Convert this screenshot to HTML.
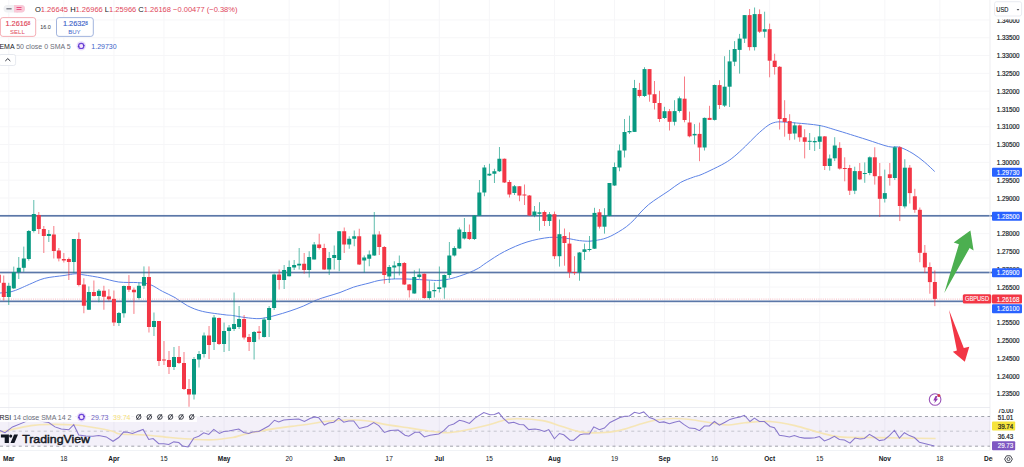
<!DOCTYPE html>
<html><head><meta charset="utf-8"><style>
html,body{margin:0;padding:0;background:#fff;width:1024px;height:467px;overflow:hidden;font-family:"Liberation Sans",sans-serif}
</style></head><body>
<svg width="1024" height="467" viewBox="0 0 1024 467" style="position:absolute;left:0;top:0">
<rect width="1024" height="467" fill="#ffffff"/>
<rect x="8.30" y="0" width="1" height="450" fill="#f6f6f8"/>
<rect x="63.36" y="0" width="1" height="450" fill="#f6f6f8"/>
<rect x="113.42" y="0" width="1" height="450" fill="#f6f6f8"/>
<rect x="163.48" y="0" width="1" height="450" fill="#f6f6f8"/>
<rect x="223.55" y="0" width="1" height="450" fill="#f6f6f8"/>
<rect x="288.62" y="0" width="1" height="450" fill="#f6f6f8"/>
<rect x="338.68" y="0" width="1" height="450" fill="#f6f6f8"/>
<rect x="388.74" y="0" width="1" height="450" fill="#f6f6f8"/>
<rect x="438.80" y="0" width="1" height="450" fill="#f6f6f8"/>
<rect x="488.86" y="0" width="1" height="450" fill="#f6f6f8"/>
<rect x="553.93" y="0" width="1" height="450" fill="#f6f6f8"/>
<rect x="614.00" y="0" width="1" height="450" fill="#f6f6f8"/>
<rect x="664.06" y="0" width="1" height="450" fill="#f6f6f8"/>
<rect x="714.12" y="0" width="1" height="450" fill="#f6f6f8"/>
<rect x="769.18" y="0" width="1" height="450" fill="#f6f6f8"/>
<rect x="819.24" y="0" width="1" height="450" fill="#f6f6f8"/>
<rect x="884.31" y="0" width="1" height="450" fill="#f6f6f8"/>
<rect x="939.38" y="0" width="1" height="450" fill="#f6f6f8"/>
<rect x="989.44" y="0" width="1" height="450" fill="#f6f6f8"/>
<rect x="0" y="393.35" width="990" height="1" fill="#f6f6f8"/>
<rect x="0" y="375.54" width="990" height="1" fill="#f6f6f8"/>
<rect x="0" y="357.74" width="990" height="1" fill="#f6f6f8"/>
<rect x="0" y="339.94" width="990" height="1" fill="#f6f6f8"/>
<rect x="0" y="322.13" width="990" height="1" fill="#f6f6f8"/>
<rect x="0" y="304.33" width="990" height="1" fill="#f6f6f8"/>
<rect x="0" y="286.52" width="990" height="1" fill="#f6f6f8"/>
<rect x="0" y="268.72" width="990" height="1" fill="#f6f6f8"/>
<rect x="0" y="250.91" width="990" height="1" fill="#f6f6f8"/>
<rect x="0" y="233.11" width="990" height="1" fill="#f6f6f8"/>
<rect x="0" y="215.30" width="990" height="1" fill="#f6f6f8"/>
<rect x="0" y="197.50" width="990" height="1" fill="#f6f6f8"/>
<rect x="0" y="179.69" width="990" height="1" fill="#f6f6f8"/>
<rect x="0" y="161.89" width="990" height="1" fill="#f6f6f8"/>
<rect x="0" y="144.08" width="990" height="1" fill="#f6f6f8"/>
<rect x="0" y="126.28" width="990" height="1" fill="#f6f6f8"/>
<rect x="0" y="108.47" width="990" height="1" fill="#f6f6f8"/>
<rect x="0" y="90.67" width="990" height="1" fill="#f6f6f8"/>
<rect x="0" y="72.86" width="990" height="1" fill="#f6f6f8"/>
<rect x="0" y="55.06" width="990" height="1" fill="#f6f6f8"/>
<rect x="0" y="37.25" width="990" height="1" fill="#f6f6f8"/>
<rect x="0" y="19.45" width="990" height="1" fill="#f6f6f8"/>
<path d="M0.00,293.00 C1.83,292.80 7.67,292.55 11.00,291.80 C14.33,291.05 16.92,289.75 20.00,288.50 C23.08,287.25 25.45,285.98 29.50,284.30 C33.55,282.62 38.55,279.87 44.30,278.40 C50.05,276.93 58.88,276.27 64.00,275.50 C69.12,274.73 72.12,273.97 75.00,273.80 C77.88,273.63 77.08,273.87 81.25,274.50 C85.42,275.13 93.75,276.35 100.00,277.60 C106.25,278.85 112.50,281.17 118.75,282.00 C125.00,282.83 132.29,282.18 137.50,282.60 C142.71,283.02 145.83,283.03 150.00,284.50 C154.17,285.97 158.33,289.22 162.50,291.40 C166.67,293.58 170.83,295.21 175.00,297.60 C179.17,299.99 182.92,303.45 187.50,305.75 C192.08,308.05 196.25,309.89 202.50,311.40 C208.75,312.91 220.00,314.12 225.00,314.80 C230.00,315.48 229.17,315.05 232.50,315.50 C235.83,315.95 240.42,316.98 245.00,317.50 C249.58,318.02 255.00,318.93 260.00,318.60 C265.00,318.27 270.00,316.77 275.00,315.50 C280.00,314.23 285.25,312.58 290.00,311.00 C294.75,309.42 299.17,307.80 303.50,306.00 C307.83,304.20 311.92,301.83 316.00,300.20 C320.08,298.57 324.00,297.48 328.00,296.20 C332.00,294.92 335.77,294.00 340.00,292.50 C344.23,291.00 348.57,288.77 353.40,287.20 C358.23,285.63 364.57,284.25 369.00,283.10 C373.43,281.95 375.57,281.00 380.00,280.30 C384.43,279.60 390.39,279.08 395.60,278.90 C400.81,278.72 406.03,279.02 411.25,279.20 C416.47,279.38 422.21,279.80 426.90,280.00 C431.59,280.20 435.23,280.67 439.40,280.40 C443.57,280.13 447.22,279.59 451.90,278.40 C456.58,277.21 463.08,274.94 467.50,273.25 C471.92,271.56 475.27,269.99 478.40,268.25 C481.52,266.51 481.90,265.59 486.25,262.80 C490.60,260.01 497.71,254.97 504.50,251.50 C511.29,248.03 519.47,244.35 527.00,242.00 C534.53,239.65 543.16,238.02 549.70,237.40 C556.24,236.78 561.28,237.77 566.25,238.30 C571.22,238.83 575.59,240.12 579.50,240.60 C583.41,241.08 586.70,241.28 589.70,241.20 C592.70,241.12 595.16,240.50 597.50,240.10 C599.84,239.70 601.53,239.47 603.75,238.80 C605.97,238.13 608.32,237.27 610.80,236.10 C613.27,234.93 616.00,233.37 618.60,231.80 C621.20,230.23 623.80,228.72 626.40,226.70 C629.00,224.68 631.93,221.98 634.20,219.70 C636.47,217.42 637.60,215.52 640.00,213.00 C642.40,210.48 645.47,207.20 648.60,204.60 C651.73,202.00 655.38,199.73 658.80,197.40 C662.22,195.07 665.45,193.10 669.10,190.60 C672.75,188.10 676.63,184.65 680.70,182.40 C684.77,180.15 690.28,178.32 693.50,177.10 C696.72,175.88 697.25,176.18 700.00,175.10 C702.75,174.02 705.87,172.60 710.00,170.60 C714.13,168.60 720.77,165.45 724.80,163.10 C728.83,160.75 730.75,159.32 734.20,156.50 C737.65,153.68 741.73,149.80 745.50,146.20 C749.27,142.60 753.03,138.37 756.80,134.90 C760.57,131.43 764.95,127.52 768.10,125.40 C771.25,123.28 773.18,122.77 775.70,122.20 C778.22,121.63 779.75,121.87 783.20,122.00 C786.65,122.13 790.43,122.43 796.40,123.00 C802.37,123.57 812.43,124.23 819.00,125.40 C825.57,126.57 827.97,127.67 835.80,130.00 C843.63,132.33 857.20,136.63 866.00,139.40 C874.80,142.17 882.95,145.28 888.60,146.60 C894.25,147.92 895.83,146.13 899.90,147.30 C903.97,148.47 908.92,151.15 913.00,153.60 C917.08,156.05 920.78,159.02 924.40,162.00 C928.02,164.98 932.98,169.92 934.70,171.50" fill="none" stroke="#5d83e6" stroke-width="1"/>
<rect x="0" y="214.95" width="992.3" height="1.7" fill="#5b77a8"/>
<rect x="0" y="271.65" width="992.3" height="1.7" fill="#5b77a8"/>
<rect x="0" y="300.50" width="963" height="1.7" fill="#5b77a8"/>
<line x1="0" y1="299.1" x2="962" y2="299.1" stroke="#f5aab3" stroke-width="0.8" stroke-dasharray="1 1.2"/>
<rect x="-1.61" y="272.50" width="0.8" height="11.50" fill="#F23645" fill-opacity="0.8"/>
<rect x="-3.21" y="274.70" width="4" height="8.10" fill="#F23645"/>
<rect x="3.39" y="275.50" width="0.8" height="25.00" fill="#F23645" fill-opacity="0.8"/>
<rect x="1.79" y="282.80" width="4" height="14.20" fill="#F23645"/>
<rect x="8.40" y="282.80" width="0.8" height="22.20" fill="#089981" fill-opacity="0.8"/>
<rect x="6.80" y="285.80" width="4" height="11.20" fill="#089981"/>
<rect x="13.41" y="266.60" width="0.8" height="22.40" fill="#089981" fill-opacity="0.8"/>
<rect x="11.81" y="272.20" width="4" height="16.20" fill="#089981"/>
<rect x="18.41" y="257.00" width="0.8" height="22.00" fill="#089981" fill-opacity="0.8"/>
<rect x="16.81" y="267.80" width="4" height="4.40" fill="#089981"/>
<rect x="23.42" y="246.60" width="0.8" height="25.20" fill="#089981" fill-opacity="0.8"/>
<rect x="21.82" y="258.50" width="4" height="9.30" fill="#089981"/>
<rect x="28.42" y="230.00" width="0.8" height="30.70" fill="#089981" fill-opacity="0.8"/>
<rect x="26.82" y="231.00" width="4" height="28.00" fill="#089981"/>
<rect x="33.43" y="200.00" width="0.8" height="32.50" fill="#089981" fill-opacity="0.8"/>
<rect x="31.83" y="214.00" width="4" height="17.00" fill="#089981"/>
<rect x="38.43" y="212.00" width="0.8" height="22.00" fill="#F23645" fill-opacity="0.8"/>
<rect x="36.83" y="215.00" width="4" height="14.00" fill="#F23645"/>
<rect x="43.44" y="226.00" width="0.8" height="27.00" fill="#F23645" fill-opacity="0.8"/>
<rect x="41.84" y="229.00" width="4" height="7.00" fill="#F23645"/>
<rect x="48.45" y="230.00" width="0.8" height="12.00" fill="#089981" fill-opacity="0.8"/>
<rect x="46.85" y="234.00" width="4" height="2.00" fill="#089981"/>
<rect x="53.45" y="226.00" width="0.8" height="32.50" fill="#F23645" fill-opacity="0.8"/>
<rect x="51.85" y="234.50" width="4" height="16.50" fill="#F23645"/>
<rect x="58.46" y="248.00" width="0.8" height="13.40" fill="#F23645" fill-opacity="0.8"/>
<rect x="56.86" y="250.50" width="4" height="8.00" fill="#F23645"/>
<rect x="63.46" y="253.00" width="0.8" height="9.50" fill="#F23645" fill-opacity="0.8"/>
<rect x="61.86" y="259.00" width="4" height="1.50" fill="#F23645"/>
<rect x="68.47" y="257.50" width="0.8" height="22.50" fill="#F23645" fill-opacity="0.8"/>
<rect x="66.87" y="259.00" width="4" height="3.00" fill="#F23645"/>
<rect x="73.48" y="239.00" width="0.8" height="34.00" fill="#089981" fill-opacity="0.8"/>
<rect x="71.88" y="239.00" width="4" height="23.00" fill="#089981"/>
<rect x="78.48" y="232.50" width="0.8" height="53.90" fill="#F23645" fill-opacity="0.8"/>
<rect x="76.88" y="239.00" width="4" height="46.00" fill="#F23645"/>
<rect x="83.49" y="278.25" width="0.8" height="35.00" fill="#F23645" fill-opacity="0.8"/>
<rect x="81.89" y="284.50" width="4" height="21.25" fill="#F23645"/>
<rect x="88.49" y="286.40" width="0.8" height="23.60" fill="#089981" fill-opacity="0.8"/>
<rect x="86.89" y="292.00" width="4" height="17.75" fill="#089981"/>
<rect x="93.50" y="280.50" width="0.8" height="16.00" fill="#F23645" fill-opacity="0.8"/>
<rect x="91.90" y="292.00" width="4" height="4.00" fill="#F23645"/>
<rect x="98.50" y="289.00" width="0.8" height="13.25" fill="#089981" fill-opacity="0.8"/>
<rect x="96.90" y="290.75" width="4" height="5.25" fill="#089981"/>
<rect x="103.51" y="285.75" width="0.8" height="24.00" fill="#F23645" fill-opacity="0.8"/>
<rect x="101.91" y="290.75" width="4" height="6.00" fill="#F23645"/>
<rect x="108.52" y="289.25" width="0.8" height="11.50" fill="#F23645" fill-opacity="0.8"/>
<rect x="106.92" y="296.40" width="4" height="2.85" fill="#F23645"/>
<rect x="113.52" y="290.50" width="0.8" height="35.50" fill="#F23645" fill-opacity="0.8"/>
<rect x="111.92" y="298.90" width="4" height="23.60" fill="#F23645"/>
<rect x="118.53" y="312.00" width="0.8" height="14.00" fill="#089981" fill-opacity="0.8"/>
<rect x="116.93" y="313.00" width="4" height="10.00" fill="#089981"/>
<rect x="123.53" y="285.50" width="0.8" height="32.10" fill="#089981" fill-opacity="0.8"/>
<rect x="121.93" y="286.00" width="4" height="27.25" fill="#089981"/>
<rect x="128.54" y="275.10" width="0.8" height="16.90" fill="#F23645" fill-opacity="0.8"/>
<rect x="126.94" y="286.00" width="4" height="3.75" fill="#F23645"/>
<rect x="133.54" y="287.60" width="0.8" height="26.30" fill="#F23645" fill-opacity="0.8"/>
<rect x="131.94" y="289.75" width="4" height="2.50" fill="#F23645"/>
<rect x="138.55" y="282.60" width="0.8" height="16.90" fill="#089981" fill-opacity="0.8"/>
<rect x="136.95" y="285.75" width="4" height="12.25" fill="#089981"/>
<rect x="143.56" y="266.40" width="0.8" height="22.50" fill="#089981" fill-opacity="0.8"/>
<rect x="141.96" y="277.00" width="4" height="8.75" fill="#089981"/>
<rect x="148.56" y="266.40" width="0.8" height="66.10" fill="#F23645" fill-opacity="0.8"/>
<rect x="146.96" y="277.00" width="4" height="50.00" fill="#F23645"/>
<rect x="153.57" y="312.50" width="0.8" height="23.50" fill="#089981" fill-opacity="0.8"/>
<rect x="151.97" y="321.00" width="4" height="6.00" fill="#089981"/>
<rect x="158.57" y="321.00" width="0.8" height="45.00" fill="#F23645" fill-opacity="0.8"/>
<rect x="156.97" y="321.00" width="4" height="40.00" fill="#F23645"/>
<rect x="163.58" y="341.00" width="0.8" height="24.00" fill="#F23645" fill-opacity="0.8"/>
<rect x="161.98" y="359.50" width="4" height="1.00" fill="#F23645"/>
<rect x="168.59" y="351.00" width="0.8" height="23.00" fill="#F23645" fill-opacity="0.8"/>
<rect x="166.99" y="360.00" width="4" height="7.00" fill="#F23645"/>
<rect x="173.59" y="347.00" width="0.8" height="23.00" fill="#089981" fill-opacity="0.8"/>
<rect x="171.99" y="357.00" width="4" height="10.00" fill="#089981"/>
<rect x="178.60" y="346.00" width="0.8" height="18.00" fill="#F23645" fill-opacity="0.8"/>
<rect x="177.00" y="357.00" width="4" height="6.00" fill="#F23645"/>
<rect x="183.60" y="352.00" width="0.8" height="38.00" fill="#F23645" fill-opacity="0.8"/>
<rect x="182.00" y="363.00" width="4" height="26.00" fill="#F23645"/>
<rect x="188.61" y="379.00" width="0.8" height="27.75" fill="#F23645" fill-opacity="0.8"/>
<rect x="187.01" y="389.00" width="4" height="5.50" fill="#F23645"/>
<rect x="193.61" y="357.00" width="0.8" height="42.50" fill="#089981" fill-opacity="0.8"/>
<rect x="192.01" y="359.00" width="4" height="35.50" fill="#089981"/>
<rect x="198.62" y="351.00" width="0.8" height="16.50" fill="#089981" fill-opacity="0.8"/>
<rect x="197.02" y="354.00" width="4" height="5.50" fill="#089981"/>
<rect x="203.63" y="332.50" width="0.8" height="25.00" fill="#089981" fill-opacity="0.8"/>
<rect x="202.03" y="335.50" width="4" height="18.50" fill="#089981"/>
<rect x="208.63" y="326.00" width="0.8" height="33.00" fill="#F23645" fill-opacity="0.8"/>
<rect x="207.03" y="335.50" width="4" height="9.50" fill="#F23645"/>
<rect x="213.64" y="315.00" width="0.8" height="35.00" fill="#089981" fill-opacity="0.8"/>
<rect x="212.04" y="317.50" width="4" height="24.50" fill="#089981"/>
<rect x="218.64" y="317.50" width="0.8" height="27.50" fill="#F23645" fill-opacity="0.8"/>
<rect x="217.04" y="318.00" width="4" height="26.00" fill="#F23645"/>
<rect x="223.65" y="322.50" width="0.8" height="29.50" fill="#089981" fill-opacity="0.8"/>
<rect x="222.05" y="331.00" width="4" height="13.00" fill="#089981"/>
<rect x="228.66" y="325.00" width="0.8" height="26.00" fill="#089981" fill-opacity="0.8"/>
<rect x="227.06" y="327.50" width="4" height="3.50" fill="#089981"/>
<rect x="233.66" y="292.50" width="0.8" height="38.50" fill="#089981" fill-opacity="0.8"/>
<rect x="232.06" y="324.00" width="4" height="5.00" fill="#089981"/>
<rect x="238.67" y="306.00" width="0.8" height="23.00" fill="#089981" fill-opacity="0.8"/>
<rect x="237.07" y="319.00" width="4" height="8.00" fill="#089981"/>
<rect x="243.67" y="315.00" width="0.8" height="24.50" fill="#F23645" fill-opacity="0.8"/>
<rect x="242.07" y="319.00" width="4" height="18.50" fill="#F23645"/>
<rect x="248.68" y="334.00" width="0.8" height="17.00" fill="#F23645" fill-opacity="0.8"/>
<rect x="247.08" y="337.00" width="4" height="5.00" fill="#F23645"/>
<rect x="253.68" y="331.00" width="0.8" height="28.50" fill="#089981" fill-opacity="0.8"/>
<rect x="252.08" y="332.00" width="4" height="10.00" fill="#089981"/>
<rect x="258.69" y="326.00" width="0.8" height="13.50" fill="#F23645" fill-opacity="0.8"/>
<rect x="257.09" y="331.50" width="4" height="1.50" fill="#F23645"/>
<rect x="263.70" y="317.50" width="0.8" height="20.00" fill="#089981" fill-opacity="0.8"/>
<rect x="262.10" y="319.50" width="4" height="17.50" fill="#089981"/>
<rect x="268.70" y="306.00" width="0.8" height="31.00" fill="#089981" fill-opacity="0.8"/>
<rect x="267.10" y="308.00" width="4" height="12.00" fill="#089981"/>
<rect x="273.71" y="273.50" width="0.8" height="36.50" fill="#089981" fill-opacity="0.8"/>
<rect x="272.11" y="274.50" width="4" height="33.50" fill="#089981"/>
<rect x="278.71" y="269.50" width="0.8" height="20.00" fill="#F23645" fill-opacity="0.8"/>
<rect x="277.11" y="274.50" width="4" height="5.50" fill="#F23645"/>
<rect x="283.72" y="265.00" width="0.8" height="24.00" fill="#089981" fill-opacity="0.8"/>
<rect x="282.12" y="270.00" width="4" height="10.00" fill="#089981"/>
<rect x="288.72" y="260.50" width="0.8" height="16.00" fill="#089981" fill-opacity="0.8"/>
<rect x="287.12" y="267.00" width="4" height="9.25" fill="#089981"/>
<rect x="293.73" y="260.00" width="0.8" height="10.00" fill="#089981" fill-opacity="0.8"/>
<rect x="292.13" y="265.00" width="4" height="2.50" fill="#089981"/>
<rect x="298.74" y="248.00" width="0.8" height="21.50" fill="#089981" fill-opacity="0.8"/>
<rect x="297.14" y="263.75" width="4" height="1.75" fill="#089981"/>
<rect x="303.74" y="253.00" width="0.8" height="20.75" fill="#F23645" fill-opacity="0.8"/>
<rect x="302.14" y="263.75" width="4" height="6.25" fill="#F23645"/>
<rect x="308.75" y="251.25" width="0.8" height="26.25" fill="#089981" fill-opacity="0.8"/>
<rect x="307.15" y="257.00" width="4" height="13.00" fill="#089981"/>
<rect x="313.75" y="242.00" width="0.8" height="17.50" fill="#089981" fill-opacity="0.8"/>
<rect x="312.15" y="244.50" width="4" height="15.00" fill="#089981"/>
<rect x="318.76" y="233.75" width="0.8" height="15.75" fill="#F23645" fill-opacity="0.8"/>
<rect x="317.16" y="244.50" width="4" height="3.50" fill="#F23645"/>
<rect x="323.77" y="243.75" width="0.8" height="26.25" fill="#F23645" fill-opacity="0.8"/>
<rect x="322.17" y="248.00" width="4" height="21.50" fill="#F23645"/>
<rect x="328.77" y="252.00" width="0.8" height="23.00" fill="#089981" fill-opacity="0.8"/>
<rect x="327.17" y="258.00" width="4" height="11.50" fill="#089981"/>
<rect x="333.78" y="245.50" width="0.8" height="24.00" fill="#089981" fill-opacity="0.8"/>
<rect x="332.18" y="255.00" width="4" height="3.00" fill="#089981"/>
<rect x="338.78" y="231.00" width="0.8" height="40.25" fill="#089981" fill-opacity="0.8"/>
<rect x="337.18" y="231.25" width="4" height="28.75" fill="#089981"/>
<rect x="343.79" y="227.50" width="0.8" height="25.50" fill="#F23645" fill-opacity="0.8"/>
<rect x="342.19" y="231.25" width="4" height="13.25" fill="#F23645"/>
<rect x="348.79" y="236.25" width="0.8" height="12.50" fill="#089981" fill-opacity="0.8"/>
<rect x="347.19" y="238.75" width="4" height="5.75" fill="#089981"/>
<rect x="353.80" y="230.50" width="0.8" height="15.75" fill="#089981" fill-opacity="0.8"/>
<rect x="352.20" y="236.25" width="4" height="2.50" fill="#089981"/>
<rect x="358.81" y="228.75" width="0.8" height="36.25" fill="#F23645" fill-opacity="0.8"/>
<rect x="357.21" y="236.25" width="4" height="28.25" fill="#F23645"/>
<rect x="363.81" y="255.50" width="0.8" height="17.00" fill="#089981" fill-opacity="0.8"/>
<rect x="362.21" y="257.50" width="4" height="3.00" fill="#089981"/>
<rect x="368.82" y="250.50" width="0.8" height="15.75" fill="#089981" fill-opacity="0.8"/>
<rect x="367.22" y="254.50" width="4" height="4.25" fill="#089981"/>
<rect x="373.82" y="212.00" width="0.8" height="44.00" fill="#089981" fill-opacity="0.8"/>
<rect x="372.22" y="234.50" width="4" height="21.00" fill="#089981"/>
<rect x="378.83" y="231.25" width="0.8" height="23.75" fill="#F23645" fill-opacity="0.8"/>
<rect x="377.23" y="234.50" width="4" height="12.50" fill="#F23645"/>
<rect x="383.84" y="246.00" width="0.8" height="37.75" fill="#F23645" fill-opacity="0.8"/>
<rect x="382.24" y="247.00" width="4" height="28.00" fill="#F23645"/>
<rect x="388.84" y="265.00" width="0.8" height="18.00" fill="#089981" fill-opacity="0.8"/>
<rect x="387.24" y="267.00" width="4" height="9.50" fill="#089981"/>
<rect x="393.85" y="261.25" width="0.8" height="17.75" fill="#089981" fill-opacity="0.8"/>
<rect x="392.25" y="265.50" width="4" height="2.00" fill="#089981"/>
<rect x="398.85" y="255.50" width="0.8" height="20.00" fill="#089981" fill-opacity="0.8"/>
<rect x="397.25" y="263.00" width="4" height="3.25" fill="#089981"/>
<rect x="403.86" y="262.00" width="0.8" height="23.00" fill="#F23645" fill-opacity="0.8"/>
<rect x="402.26" y="263.00" width="4" height="21.50" fill="#F23645"/>
<rect x="408.86" y="284.00" width="0.8" height="13.50" fill="#F23645" fill-opacity="0.8"/>
<rect x="407.26" y="284.50" width="4" height="5.75" fill="#F23645"/>
<rect x="413.87" y="270.25" width="0.8" height="23.50" fill="#089981" fill-opacity="0.8"/>
<rect x="412.27" y="277.00" width="4" height="16.50" fill="#089981"/>
<rect x="418.88" y="268.50" width="0.8" height="10.25" fill="#089981" fill-opacity="0.8"/>
<rect x="417.28" y="274.50" width="4" height="2.50" fill="#089981"/>
<rect x="423.88" y="273.50" width="0.8" height="25.25" fill="#F23645" fill-opacity="0.8"/>
<rect x="422.28" y="273.75" width="4" height="24.25" fill="#F23645"/>
<rect x="428.89" y="280.75" width="0.8" height="18.75" fill="#089981" fill-opacity="0.8"/>
<rect x="427.29" y="291.25" width="4" height="6.75" fill="#089981"/>
<rect x="433.89" y="282.50" width="0.8" height="15.00" fill="#089981" fill-opacity="0.8"/>
<rect x="432.29" y="290.00" width="4" height="1.25" fill="#089981"/>
<rect x="438.90" y="266.50" width="0.8" height="26.00" fill="#089981" fill-opacity="0.8"/>
<rect x="437.30" y="287.25" width="4" height="1.75" fill="#089981"/>
<rect x="443.90" y="274.50" width="0.8" height="24.25" fill="#089981" fill-opacity="0.8"/>
<rect x="442.30" y="275.00" width="4" height="12.50" fill="#089981"/>
<rect x="448.91" y="242.00" width="0.8" height="36.00" fill="#089981" fill-opacity="0.8"/>
<rect x="447.31" y="255.50" width="4" height="19.50" fill="#089981"/>
<rect x="453.92" y="246.25" width="0.8" height="10.25" fill="#089981" fill-opacity="0.8"/>
<rect x="452.32" y="248.00" width="4" height="7.50" fill="#089981"/>
<rect x="458.92" y="227.50" width="0.8" height="21.50" fill="#089981" fill-opacity="0.8"/>
<rect x="457.32" y="229.50" width="4" height="19.00" fill="#089981"/>
<rect x="463.93" y="218.00" width="0.8" height="21.50" fill="#089981" fill-opacity="0.8"/>
<rect x="462.33" y="232.00" width="4" height="6.50" fill="#089981"/>
<rect x="468.93" y="224.50" width="0.8" height="15.50" fill="#F23645" fill-opacity="0.8"/>
<rect x="467.33" y="232.00" width="4" height="7.00" fill="#F23645"/>
<rect x="473.94" y="215.00" width="0.8" height="25.00" fill="#089981" fill-opacity="0.8"/>
<rect x="472.34" y="215.50" width="4" height="23.50" fill="#089981"/>
<rect x="478.95" y="180.00" width="0.8" height="36.00" fill="#089981" fill-opacity="0.8"/>
<rect x="477.35" y="192.50" width="4" height="23.25" fill="#089981"/>
<rect x="483.95" y="165.00" width="0.8" height="31.25" fill="#089981" fill-opacity="0.8"/>
<rect x="482.35" y="167.50" width="4" height="25.00" fill="#089981"/>
<rect x="488.96" y="163.75" width="0.8" height="12.25" fill="#089981" fill-opacity="0.8"/>
<rect x="487.36" y="173.75" width="4" height="1.75" fill="#089981"/>
<rect x="493.96" y="168.75" width="0.8" height="14.25" fill="#089981" fill-opacity="0.8"/>
<rect x="492.36" y="171.25" width="4" height="2.50" fill="#089981"/>
<rect x="498.97" y="147.00" width="0.8" height="25.00" fill="#089981" fill-opacity="0.8"/>
<rect x="497.37" y="158.75" width="4" height="12.50" fill="#089981"/>
<rect x="503.97" y="158.50" width="0.8" height="24.50" fill="#F23645" fill-opacity="0.8"/>
<rect x="502.37" y="158.75" width="4" height="23.75" fill="#F23645"/>
<rect x="508.98" y="180.00" width="0.8" height="17.50" fill="#F23645" fill-opacity="0.8"/>
<rect x="507.38" y="182.00" width="4" height="12.50" fill="#F23645"/>
<rect x="513.99" y="185.00" width="0.8" height="10.00" fill="#089981" fill-opacity="0.8"/>
<rect x="512.39" y="186.25" width="4" height="6.75" fill="#089981"/>
<rect x="518.99" y="186.00" width="0.8" height="15.25" fill="#F23645" fill-opacity="0.8"/>
<rect x="517.39" y="186.25" width="4" height="9.25" fill="#F23645"/>
<rect x="524.00" y="184.50" width="0.8" height="20.50" fill="#F23645" fill-opacity="0.8"/>
<rect x="522.40" y="194.50" width="4" height="1.00" fill="#F23645"/>
<rect x="529.00" y="195.00" width="0.8" height="21.00" fill="#F23645" fill-opacity="0.8"/>
<rect x="527.40" y="195.50" width="4" height="20.00" fill="#F23645"/>
<rect x="534.01" y="206.00" width="0.8" height="11.20" fill="#089981" fill-opacity="0.8"/>
<rect x="532.41" y="211.50" width="4" height="4.00" fill="#089981"/>
<rect x="539.01" y="202.20" width="0.8" height="28.60" fill="#089981" fill-opacity="0.8"/>
<rect x="537.41" y="212.30" width="4" height="1.50" fill="#089981"/>
<rect x="544.02" y="210.50" width="0.8" height="15.50" fill="#F23645" fill-opacity="0.8"/>
<rect x="542.42" y="212.00" width="4" height="9.00" fill="#F23645"/>
<rect x="549.03" y="212.00" width="0.8" height="14.00" fill="#089981" fill-opacity="0.8"/>
<rect x="547.43" y="214.20" width="4" height="6.80" fill="#089981"/>
<rect x="554.03" y="211.60" width="0.8" height="47.40" fill="#F23645" fill-opacity="0.8"/>
<rect x="552.43" y="214.20" width="4" height="42.00" fill="#F23645"/>
<rect x="559.04" y="219.50" width="0.8" height="47.10" fill="#089981" fill-opacity="0.8"/>
<rect x="557.44" y="234.20" width="4" height="22.00" fill="#089981"/>
<rect x="564.04" y="228.50" width="0.8" height="37.20" fill="#F23645" fill-opacity="0.8"/>
<rect x="562.44" y="236.00" width="4" height="7.00" fill="#F23645"/>
<rect x="569.05" y="232.30" width="0.8" height="45.60" fill="#F23645" fill-opacity="0.8"/>
<rect x="567.45" y="243.60" width="4" height="28.70" fill="#F23645"/>
<rect x="574.06" y="256.20" width="0.8" height="18.80" fill="#F23645" fill-opacity="0.8"/>
<rect x="572.46" y="272.00" width="4" height="1.00" fill="#F23645"/>
<rect x="579.06" y="252.00" width="0.8" height="28.70" fill="#089981" fill-opacity="0.8"/>
<rect x="577.46" y="252.50" width="4" height="19.80" fill="#089981"/>
<rect x="584.07" y="243.60" width="0.8" height="16.40" fill="#089981" fill-opacity="0.8"/>
<rect x="582.47" y="249.30" width="4" height="2.60" fill="#089981"/>
<rect x="589.07" y="236.00" width="0.8" height="15.50" fill="#089981" fill-opacity="0.8"/>
<rect x="587.47" y="249.00" width="4" height="1.00" fill="#089981"/>
<rect x="594.08" y="207.80" width="0.8" height="41.20" fill="#089981" fill-opacity="0.8"/>
<rect x="592.48" y="212.90" width="4" height="35.80" fill="#089981"/>
<rect x="599.08" y="209.00" width="0.8" height="19.50" fill="#F23645" fill-opacity="0.8"/>
<rect x="597.48" y="212.30" width="4" height="14.40" fill="#F23645"/>
<rect x="604.09" y="208.20" width="0.8" height="25.40" fill="#089981" fill-opacity="0.8"/>
<rect x="602.49" y="215.70" width="4" height="11.00" fill="#089981"/>
<rect x="609.10" y="183.00" width="0.8" height="33.25" fill="#089981" fill-opacity="0.8"/>
<rect x="607.50" y="183.00" width="4" height="33.00" fill="#089981"/>
<rect x="614.10" y="162.50" width="0.8" height="23.50" fill="#089981" fill-opacity="0.8"/>
<rect x="612.50" y="167.00" width="4" height="18.50" fill="#089981"/>
<rect x="619.11" y="144.50" width="0.8" height="26.75" fill="#089981" fill-opacity="0.8"/>
<rect x="617.51" y="150.50" width="4" height="17.00" fill="#089981"/>
<rect x="624.11" y="119.00" width="0.8" height="38.50" fill="#089981" fill-opacity="0.8"/>
<rect x="622.51" y="132.00" width="4" height="18.50" fill="#089981"/>
<rect x="629.12" y="115.70" width="0.8" height="18.30" fill="#089981" fill-opacity="0.8"/>
<rect x="627.52" y="131.00" width="4" height="1.30" fill="#089981"/>
<rect x="634.12" y="79.90" width="0.8" height="52.10" fill="#089981" fill-opacity="0.8"/>
<rect x="632.52" y="88.00" width="4" height="43.90" fill="#089981"/>
<rect x="639.13" y="82.90" width="0.8" height="14.50" fill="#F23645" fill-opacity="0.8"/>
<rect x="637.53" y="89.90" width="4" height="6.10" fill="#F23645"/>
<rect x="644.14" y="67.20" width="0.8" height="29.80" fill="#089981" fill-opacity="0.8"/>
<rect x="642.54" y="69.10" width="4" height="26.90" fill="#089981"/>
<rect x="649.14" y="69.00" width="0.8" height="32.70" fill="#F23645" fill-opacity="0.8"/>
<rect x="647.54" y="69.10" width="4" height="25.50" fill="#F23645"/>
<rect x="654.15" y="81.00" width="0.8" height="28.50" fill="#F23645" fill-opacity="0.8"/>
<rect x="652.55" y="94.20" width="4" height="8.80" fill="#F23645"/>
<rect x="659.15" y="90.80" width="0.8" height="31.20" fill="#F23645" fill-opacity="0.8"/>
<rect x="657.55" y="103.00" width="4" height="16.00" fill="#F23645"/>
<rect x="664.16" y="106.80" width="0.8" height="12.20" fill="#089981" fill-opacity="0.8"/>
<rect x="662.56" y="111.20" width="4" height="6.80" fill="#089981"/>
<rect x="669.17" y="109.00" width="0.8" height="21.50" fill="#F23645" fill-opacity="0.8"/>
<rect x="667.57" y="111.20" width="4" height="10.60" fill="#F23645"/>
<rect x="674.17" y="100.20" width="0.8" height="25.30" fill="#089981" fill-opacity="0.8"/>
<rect x="672.57" y="111.10" width="4" height="10.70" fill="#089981"/>
<rect x="679.18" y="96.50" width="0.8" height="16.00" fill="#089981" fill-opacity="0.8"/>
<rect x="677.58" y="98.30" width="4" height="12.70" fill="#089981"/>
<rect x="684.18" y="76.50" width="0.8" height="45.80" fill="#F23645" fill-opacity="0.8"/>
<rect x="682.58" y="98.70" width="4" height="21.30" fill="#F23645"/>
<rect x="689.19" y="111.60" width="0.8" height="25.70" fill="#F23645" fill-opacity="0.8"/>
<rect x="687.59" y="122.50" width="4" height="13.80" fill="#F23645"/>
<rect x="694.19" y="124.10" width="0.8" height="20.20" fill="#089981" fill-opacity="0.8"/>
<rect x="692.59" y="133.90" width="4" height="1.50" fill="#089981"/>
<rect x="699.20" y="122.60" width="0.8" height="38.60" fill="#F23645" fill-opacity="0.8"/>
<rect x="697.60" y="133.90" width="4" height="13.60" fill="#F23645"/>
<rect x="704.21" y="117.50" width="0.8" height="33.00" fill="#089981" fill-opacity="0.8"/>
<rect x="702.61" y="117.90" width="4" height="29.60" fill="#089981"/>
<rect x="709.21" y="105.80" width="0.8" height="14.20" fill="#F23645" fill-opacity="0.8"/>
<rect x="707.61" y="117.90" width="4" height="2.00" fill="#F23645"/>
<rect x="714.22" y="84.50" width="0.8" height="36.00" fill="#089981" fill-opacity="0.8"/>
<rect x="712.62" y="85.00" width="4" height="34.90" fill="#089981"/>
<rect x="719.22" y="80.20" width="0.8" height="28.80" fill="#F23645" fill-opacity="0.8"/>
<rect x="717.62" y="85.10" width="4" height="19.90" fill="#F23645"/>
<rect x="724.23" y="56.20" width="0.8" height="50.80" fill="#089981" fill-opacity="0.8"/>
<rect x="722.63" y="86.70" width="4" height="18.90" fill="#089981"/>
<rect x="729.24" y="49.90" width="0.8" height="57.10" fill="#089981" fill-opacity="0.8"/>
<rect x="727.64" y="61.40" width="4" height="25.30" fill="#089981"/>
<rect x="734.24" y="41.10" width="0.8" height="25.00" fill="#089981" fill-opacity="0.8"/>
<rect x="732.64" y="49.00" width="4" height="12.70" fill="#089981"/>
<rect x="739.25" y="33.90" width="0.8" height="39.70" fill="#089981" fill-opacity="0.8"/>
<rect x="737.65" y="38.60" width="4" height="11.30" fill="#089981"/>
<rect x="744.25" y="15.00" width="0.8" height="28.00" fill="#089981" fill-opacity="0.8"/>
<rect x="742.65" y="15.10" width="4" height="23.50" fill="#089981"/>
<rect x="749.26" y="9.00" width="0.8" height="41.50" fill="#F23645" fill-opacity="0.8"/>
<rect x="747.66" y="15.10" width="4" height="32.00" fill="#F23645"/>
<rect x="754.26" y="7.50" width="0.8" height="43.00" fill="#089981" fill-opacity="0.8"/>
<rect x="752.66" y="14.10" width="4" height="33.00" fill="#089981"/>
<rect x="759.27" y="9.40" width="0.8" height="23.60" fill="#F23645" fill-opacity="0.8"/>
<rect x="757.67" y="14.10" width="4" height="17.60" fill="#F23645"/>
<rect x="764.28" y="11.70" width="0.8" height="26.00" fill="#089981" fill-opacity="0.8"/>
<rect x="762.68" y="29.20" width="4" height="2.50" fill="#089981"/>
<rect x="769.28" y="23.60" width="0.8" height="53.70" fill="#F23645" fill-opacity="0.8"/>
<rect x="767.68" y="29.20" width="4" height="31.50" fill="#F23645"/>
<rect x="774.29" y="53.70" width="0.8" height="20.90" fill="#F23645" fill-opacity="0.8"/>
<rect x="772.69" y="60.70" width="4" height="6.30" fill="#F23645"/>
<rect x="779.29" y="66.00" width="0.8" height="63.50" fill="#F23645" fill-opacity="0.8"/>
<rect x="777.69" y="66.80" width="4" height="52.20" fill="#F23645"/>
<rect x="784.30" y="100.20" width="0.8" height="36.50" fill="#F23645" fill-opacity="0.8"/>
<rect x="782.70" y="118.00" width="4" height="4.00" fill="#F23645"/>
<rect x="789.30" y="114.20" width="0.8" height="26.00" fill="#F23645" fill-opacity="0.8"/>
<rect x="787.70" y="121.10" width="4" height="12.70" fill="#F23645"/>
<rect x="794.31" y="122.60" width="0.8" height="17.00" fill="#089981" fill-opacity="0.8"/>
<rect x="792.71" y="125.40" width="4" height="8.10" fill="#089981"/>
<rect x="799.32" y="124.50" width="0.8" height="17.30" fill="#F23645" fill-opacity="0.8"/>
<rect x="797.72" y="125.40" width="4" height="11.90" fill="#F23645"/>
<rect x="804.32" y="129.20" width="0.8" height="29.20" fill="#F23645" fill-opacity="0.8"/>
<rect x="802.72" y="137.30" width="4" height="4.50" fill="#F23645"/>
<rect x="809.33" y="133.00" width="0.8" height="17.00" fill="#089981" fill-opacity="0.8"/>
<rect x="807.73" y="140.80" width="4" height="1.00" fill="#089981"/>
<rect x="814.33" y="137.30" width="0.8" height="13.70" fill="#089981" fill-opacity="0.8"/>
<rect x="812.73" y="141.00" width="4" height="1.30" fill="#089981"/>
<rect x="819.34" y="125.40" width="0.8" height="23.60" fill="#089981" fill-opacity="0.8"/>
<rect x="817.74" y="136.40" width="4" height="5.40" fill="#089981"/>
<rect x="824.35" y="136.00" width="0.8" height="34.00" fill="#F23645" fill-opacity="0.8"/>
<rect x="822.75" y="136.40" width="4" height="29.60" fill="#F23645"/>
<rect x="829.35" y="154.50" width="0.8" height="16.10" fill="#089981" fill-opacity="0.8"/>
<rect x="827.75" y="158.50" width="4" height="7.50" fill="#089981"/>
<rect x="834.36" y="137.20" width="0.8" height="23.90" fill="#089981" fill-opacity="0.8"/>
<rect x="832.76" y="145.50" width="4" height="12.80" fill="#089981"/>
<rect x="839.36" y="142.20" width="0.8" height="27.40" fill="#F23645" fill-opacity="0.8"/>
<rect x="837.76" y="147.90" width="4" height="20.70" fill="#F23645"/>
<rect x="844.37" y="157.30" width="0.8" height="24.00" fill="#F23645" fill-opacity="0.8"/>
<rect x="842.77" y="168.00" width="4" height="1.00" fill="#F23645"/>
<rect x="849.37" y="164.90" width="0.8" height="30.10" fill="#F23645" fill-opacity="0.8"/>
<rect x="847.77" y="168.00" width="4" height="22.70" fill="#F23645"/>
<rect x="854.38" y="166.70" width="0.8" height="27.40" fill="#089981" fill-opacity="0.8"/>
<rect x="852.78" y="171.10" width="4" height="19.60" fill="#089981"/>
<rect x="859.39" y="163.00" width="0.8" height="17.00" fill="#F23645" fill-opacity="0.8"/>
<rect x="857.79" y="171.10" width="4" height="8.30" fill="#F23645"/>
<rect x="864.39" y="162.40" width="0.8" height="20.40" fill="#089981" fill-opacity="0.8"/>
<rect x="862.79" y="173.00" width="4" height="1.00" fill="#089981"/>
<rect x="869.40" y="156.40" width="0.8" height="18.80" fill="#089981" fill-opacity="0.8"/>
<rect x="867.80" y="157.30" width="4" height="15.70" fill="#089981"/>
<rect x="874.40" y="147.30" width="0.8" height="37.30" fill="#F23645" fill-opacity="0.8"/>
<rect x="872.80" y="157.30" width="4" height="18.90" fill="#F23645"/>
<rect x="879.41" y="163.00" width="0.8" height="54.00" fill="#F23645" fill-opacity="0.8"/>
<rect x="877.81" y="176.20" width="4" height="22.60" fill="#F23645"/>
<rect x="884.41" y="169.60" width="0.8" height="32.90" fill="#089981" fill-opacity="0.8"/>
<rect x="882.81" y="193.10" width="4" height="5.70" fill="#089981"/>
<rect x="889.42" y="163.00" width="0.8" height="22.60" fill="#F23645" fill-opacity="0.8"/>
<rect x="887.82" y="174.30" width="4" height="3.70" fill="#F23645"/>
<rect x="894.43" y="146.00" width="0.8" height="34.00" fill="#089981" fill-opacity="0.8"/>
<rect x="892.83" y="147.30" width="4" height="30.70" fill="#089981"/>
<rect x="899.43" y="146.00" width="0.8" height="75.10" fill="#F23645" fill-opacity="0.8"/>
<rect x="897.83" y="147.30" width="4" height="58.70" fill="#F23645"/>
<rect x="904.44" y="159.20" width="0.8" height="49.20" fill="#089981" fill-opacity="0.8"/>
<rect x="902.84" y="167.70" width="4" height="38.70" fill="#089981"/>
<rect x="909.44" y="165.00" width="0.8" height="38.50" fill="#F23645" fill-opacity="0.8"/>
<rect x="907.84" y="167.70" width="4" height="25.40" fill="#F23645"/>
<rect x="914.45" y="188.80" width="0.8" height="24.00" fill="#F23645" fill-opacity="0.8"/>
<rect x="912.85" y="196.30" width="4" height="13.50" fill="#F23645"/>
<rect x="919.46" y="207.50" width="0.8" height="54.70" fill="#F23645" fill-opacity="0.8"/>
<rect x="917.86" y="209.80" width="4" height="43.00" fill="#F23645"/>
<rect x="924.46" y="245.00" width="0.8" height="28.00" fill="#F23645" fill-opacity="0.8"/>
<rect x="922.86" y="252.80" width="4" height="14.60" fill="#F23645"/>
<rect x="929.47" y="262.40" width="0.8" height="31.30" fill="#F23645" fill-opacity="0.8"/>
<rect x="927.87" y="267.00" width="4" height="15.10" fill="#F23645"/>
<rect x="934.47" y="270.40" width="0.8" height="35.70" fill="#F23645" fill-opacity="0.8"/>
<rect x="932.87" y="282.00" width="4" height="16.90" fill="#F23645"/>
<path d="M944.3,293.1 L958.9,244.2 L953.7,242.6 L970.4,230.5 L973.6,250.4 L969.6,248.0 Z" fill="#4caf50"/>
<path d="M949.0,310.0 L963.8,347.9 L969.3,346.8 L964.8,361.8 L952.8,351.7 L956.9,350.6 Z" fill="#f23645"/>
<circle cx="935.1" cy="399.5" r="5.8" fill="#fff" stroke="#9a55b8" stroke-width="1.1"/>
<path d="M935.5,396.1 L937.5,396.1 L936.3,398.7 L938.1,398.7 L934.3,403.3 L935.1,400.5 L933.3,400.5 Z" fill="#9038b0"/>
<circle cx="938.9" cy="395.5" r="1.5" fill="#d23a4c"/>
<rect x="989.6" y="0" width="0.8" height="450" fill="#f0f0f2"/>
<text transform="translate(1019.40,396.45) scale(0.920,1)" font-family="Liberation Sans, sans-serif" font-size="6.80" fill="#131722" stroke="#131722" stroke-width="0.18" text-anchor="end">1.23500</text>
<text transform="translate(1019.40,378.64) scale(0.920,1)" font-family="Liberation Sans, sans-serif" font-size="6.80" fill="#131722" stroke="#131722" stroke-width="0.18" text-anchor="end">1.24000</text>
<text transform="translate(1019.40,360.84) scale(0.920,1)" font-family="Liberation Sans, sans-serif" font-size="6.80" fill="#131722" stroke="#131722" stroke-width="0.18" text-anchor="end">1.24500</text>
<text transform="translate(1019.40,343.04) scale(0.920,1)" font-family="Liberation Sans, sans-serif" font-size="6.80" fill="#131722" stroke="#131722" stroke-width="0.18" text-anchor="end">1.25000</text>
<text transform="translate(1019.40,325.23) scale(0.920,1)" font-family="Liberation Sans, sans-serif" font-size="6.80" fill="#131722" stroke="#131722" stroke-width="0.18" text-anchor="end">1.25500</text>
<text transform="translate(1019.40,289.62) scale(0.920,1)" font-family="Liberation Sans, sans-serif" font-size="6.80" fill="#131722" stroke="#131722" stroke-width="0.18" text-anchor="end">1.26500</text>
<text transform="translate(1019.40,271.82) scale(0.920,1)" font-family="Liberation Sans, sans-serif" font-size="6.80" fill="#131722" stroke="#131722" stroke-width="0.18" text-anchor="end">1.27000</text>
<text transform="translate(1019.40,254.01) scale(0.920,1)" font-family="Liberation Sans, sans-serif" font-size="6.80" fill="#131722" stroke="#131722" stroke-width="0.18" text-anchor="end">1.27500</text>
<text transform="translate(1019.40,236.21) scale(0.920,1)" font-family="Liberation Sans, sans-serif" font-size="6.80" fill="#131722" stroke="#131722" stroke-width="0.18" text-anchor="end">1.28000</text>
<text transform="translate(1019.40,200.60) scale(0.920,1)" font-family="Liberation Sans, sans-serif" font-size="6.80" fill="#131722" stroke="#131722" stroke-width="0.18" text-anchor="end">1.29000</text>
<text transform="translate(1019.40,182.79) scale(0.920,1)" font-family="Liberation Sans, sans-serif" font-size="6.80" fill="#131722" stroke="#131722" stroke-width="0.18" text-anchor="end">1.29500</text>
<text transform="translate(1019.40,164.99) scale(0.920,1)" font-family="Liberation Sans, sans-serif" font-size="6.80" fill="#131722" stroke="#131722" stroke-width="0.18" text-anchor="end">1.30000</text>
<text transform="translate(1019.40,147.18) scale(0.920,1)" font-family="Liberation Sans, sans-serif" font-size="6.80" fill="#131722" stroke="#131722" stroke-width="0.18" text-anchor="end">1.30500</text>
<text transform="translate(1019.40,129.38) scale(0.920,1)" font-family="Liberation Sans, sans-serif" font-size="6.80" fill="#131722" stroke="#131722" stroke-width="0.18" text-anchor="end">1.31000</text>
<text transform="translate(1019.40,111.57) scale(0.920,1)" font-family="Liberation Sans, sans-serif" font-size="6.80" fill="#131722" stroke="#131722" stroke-width="0.18" text-anchor="end">1.31500</text>
<text transform="translate(1019.40,93.77) scale(0.920,1)" font-family="Liberation Sans, sans-serif" font-size="6.80" fill="#131722" stroke="#131722" stroke-width="0.18" text-anchor="end">1.32000</text>
<text transform="translate(1019.40,75.96) scale(0.920,1)" font-family="Liberation Sans, sans-serif" font-size="6.80" fill="#131722" stroke="#131722" stroke-width="0.18" text-anchor="end">1.32500</text>
<text transform="translate(1019.40,58.16) scale(0.920,1)" font-family="Liberation Sans, sans-serif" font-size="6.80" fill="#131722" stroke="#131722" stroke-width="0.18" text-anchor="end">1.33000</text>
<text transform="translate(1019.40,40.35) scale(0.920,1)" font-family="Liberation Sans, sans-serif" font-size="6.80" fill="#131722" stroke="#131722" stroke-width="0.18" text-anchor="end">1.33500</text>
<text transform="translate(1019.40,22.55) scale(0.920,1)" font-family="Liberation Sans, sans-serif" font-size="6.80" fill="#131722" stroke="#131722" stroke-width="0.18" text-anchor="end">1.34000</text>
<rect x="992.0" y="167.80" width="30.0" height="9" rx="1" fill="#2962ff"/>
<text transform="translate(1019.40,174.90) scale(0.920,1)" font-family="Liberation Sans, sans-serif" font-size="6.80" fill="#fff" stroke="#fff" stroke-width="0.10" text-anchor="end">1.29730</text>
<rect x="992.0" y="211.70" width="30.0" height="9" rx="1" fill="#2962ff"/>
<text transform="translate(1019.40,218.80) scale(0.920,1)" font-family="Liberation Sans, sans-serif" font-size="6.80" fill="#fff" stroke="#fff" stroke-width="0.10" text-anchor="end">1.28500</text>
<rect x="992.0" y="268.20" width="30.0" height="9" rx="1" fill="#2962ff"/>
<text transform="translate(1019.40,275.30) scale(0.920,1)" font-family="Liberation Sans, sans-serif" font-size="6.80" fill="#fff" stroke="#fff" stroke-width="0.10" text-anchor="end">1.26900</text>
<rect x="992.0" y="294.50" width="30.0" height="9" rx="1" fill="#f23645"/>
<text transform="translate(1019.40,301.60) scale(0.920,1)" font-family="Liberation Sans, sans-serif" font-size="6.80" fill="#fff" stroke="#fff" stroke-width="0.10" text-anchor="end">1.26168</text>
<rect x="992.0" y="304.20" width="30.0" height="9" rx="1" fill="#2962ff"/>
<text transform="translate(1019.40,311.30) scale(0.920,1)" font-family="Liberation Sans, sans-serif" font-size="6.80" fill="#fff" stroke="#fff" stroke-width="0.10" text-anchor="end">1.26100</text>
<rect x="962.8" y="294.3" width="28.5" height="9.3" rx="1.5" fill="#f23645"/>
<text x="977" y="301.3" font-family="Liberation Sans, sans-serif" font-size="6.4" fill="#fff" stroke="#fff" stroke-width="0.1" text-anchor="middle" textLength="24" lengthAdjust="spacingAndGlyphs">GBPUSD</text>
<rect x="990.6" y="0" width="33.4" height="19.4" fill="#fff"/>
<rect x="994.6" y="1.7" width="27" height="14.3" rx="2" fill="#fff" stroke="#e0e3eb" stroke-width="0.7"/>
<text x="996.3" y="11.7" font-family="Liberation Sans, sans-serif" font-size="7.4" fill="#131722" stroke="#131722" stroke-width="0.15" textLength="12" lengthAdjust="spacingAndGlyphs">USD</text>
<path d="M1016.6,9.3 L1019.4,9.3 L1018,10.5 Z" fill="#131722"/>
<rect x="0" y="407" width="990" height="0.8" fill="#e6e8ee"/>
<rect x="0" y="416.5" width="990" height="29.8" fill="#7e57c2" fill-opacity="0.09"/>
<line x1="0" y1="416.50" x2="990" y2="416.50" stroke="#8a8d98" stroke-opacity="1.00" stroke-width="0.8" stroke-dasharray="3 3.25"/>
<line x1="0" y1="431.20" x2="990" y2="431.20" stroke="#8a8d98" stroke-opacity="0.55" stroke-width="0.8" stroke-dasharray="3 3.25"/>
<line x1="0" y1="446.20" x2="990" y2="446.20" stroke="#8a8d98" stroke-opacity="1.00" stroke-width="0.8" stroke-dasharray="3 3.25"/>
<path d="M0.00,432.25 C2.08,431.77 7.33,430.51 12.50,429.40 C17.67,428.29 24.75,426.43 31.00,425.60 C37.25,424.77 42.67,424.50 50.00,424.40 C57.33,424.30 67.71,424.48 75.00,425.00 C82.29,425.52 87.50,426.46 93.75,427.50 C100.00,428.54 108.12,430.17 112.50,431.25 C116.88,432.33 114.58,433.38 120.00,434.00 C125.42,434.62 136.67,434.42 145.00,435.00 C153.33,435.58 161.67,436.77 170.00,437.50 C178.33,438.23 187.71,439.02 195.00,439.40 C202.29,439.77 207.50,440.07 213.75,439.75 C220.00,439.43 228.12,438.19 232.50,437.50 C236.88,436.81 236.67,436.43 240.00,435.60 C243.33,434.77 246.25,433.75 252.50,432.50 C258.75,431.25 269.17,429.35 277.50,428.10 C285.83,426.85 294.17,426.14 302.50,425.00 C310.83,423.86 319.17,422.08 327.50,421.25 C335.83,420.42 345.75,420.04 352.50,420.00 C359.25,419.96 362.58,420.27 368.00,421.00 C373.42,421.73 378.00,423.22 385.00,424.40 C392.00,425.58 402.71,427.00 410.00,428.10 C417.29,429.20 422.50,430.23 428.75,431.00 C435.00,431.77 441.25,432.92 447.50,432.75 C453.75,432.58 459.50,431.29 466.25,430.00 C473.00,428.71 481.54,426.67 488.00,425.00 C494.46,423.33 500.08,421.04 505.00,420.00 C509.92,418.96 511.25,418.65 517.50,418.75 C523.75,418.85 535.21,419.35 542.50,420.60 C549.79,421.85 555.00,424.37 561.25,426.25 C567.50,428.13 573.54,430.82 580.00,431.90 C586.46,432.98 593.54,432.97 600.00,432.75 C606.46,432.53 612.50,431.89 618.75,430.60 C625.00,429.31 631.25,426.77 637.50,425.00 C643.75,423.23 650.00,421.08 656.25,420.00 C662.50,418.92 668.75,418.50 675.00,418.50 C681.25,418.50 687.50,419.23 693.75,420.00 C700.00,420.77 706.79,422.27 712.50,423.10 C718.21,423.93 722.58,425.06 728.00,425.00 C733.42,424.94 738.00,423.33 745.00,422.75 C752.00,422.17 761.67,421.02 770.00,421.50 C778.33,421.98 786.67,423.73 795.00,425.60 C803.33,427.48 812.50,430.87 820.00,432.75 C827.50,434.63 831.67,436.11 840.00,436.90 C848.33,437.69 860.00,437.32 870.00,437.50 C880.00,437.68 889.07,437.83 900.00,438.00 C910.93,438.17 929.67,438.42 935.60,438.50" fill="none" stroke="#f6e5b2" stroke-width="1.6" stroke-opacity="0.95"/>
<path d="M0.00,430.60 L5.00,432.75 L12.50,426.90 L25.00,421.90 L28.75,419.40 L36.25,419.40 L41.25,421.25 L48.75,422.50 L55.00,426.90 L61.25,429.00 L68.75,429.75 L73.75,424.75 L78.75,435.00 L86.00,436.00 L93.00,436.25 L98.75,435.60 L106.25,436.90 L113.00,441.25 L118.75,437.50 L123.75,431.90 L127.50,432.25 L132.50,433.50 L138.75,431.00 L143.10,429.40 L148.75,439.40 L153.10,438.50 L158.75,443.75 L163.75,443.75 L168.75,444.40 L173.75,441.90 L178.75,442.50 L182.50,446.00 L188.10,446.90 L193.75,438.10 L198.75,436.25 L203.75,432.75 L208.75,434.40 L213.75,429.40 L219.40,433.50 L223.75,431.50 L228.75,431.00 L233.75,430.00 L238.75,429.00 L243.75,432.50 L248.75,433.50 L252.50,431.90 L258.75,431.50 L268.75,426.00 L274.40,420.25 L278.75,421.90 L283.75,420.00 L290.00,419.60 L298.75,419.10 L304.40,421.50 L310.00,418.50 L314.40,416.90 L318.75,417.75 L324.40,425.00 L328.75,423.10 L333.75,422.25 L338.75,418.10 L343.75,422.25 L348.75,421.00 L353.75,421.00 L359.40,428.50 L365.00,426.90 L367.50,426.50 L373.75,422.50 L378.75,425.60 L384.40,432.50 L390.00,430.60 L398.10,430.00 L405.00,435.25 L408.75,436.25 L415.00,432.25 L419.40,432.25 L424.40,436.90 L430.00,435.25 L438.75,434.00 L443.75,430.60 L448.75,425.60 L453.75,424.00 L459.40,420.25 L463.75,421.25 L469.40,423.40 L475.00,418.10 L483.75,412.50 L490.00,414.75 L494.40,414.40 L498.75,412.75 L503.10,418.10 L508.75,423.10 L513.75,422.25 L519.40,424.40 L523.75,424.75 L528.75,429.60 L535.00,429.00 L539.40,429.75 L544.40,431.50 L548.75,429.60 L554.40,438.75 L559.40,433.50 L563.75,434.75 L570.00,440.25 L573.75,440.25 L580.00,434.75 L583.75,434.00 L589.40,434.00 L593.75,426.90 L599.40,429.75 L604.40,428.10 L610.00,422.50 L615.00,420.00 L620.00,417.50 L625.00,416.25 L629.40,416.00 L634.40,412.25 L639.40,413.50 L643.75,411.90 L649.40,417.50 L653.75,419.00 L659.40,422.50 L663.75,421.90 L669.40,423.75 L674.40,422.25 L679.40,421.00 L683.75,424.40 L689.40,428.10 L695.00,428.50 L699.40,430.60 L704.40,426.00 L709.40,426.00 L714.40,421.50 L719.40,425.25 L725.00,422.25 L730.00,419.40 L735.00,418.10 L740.00,416.90 L744.40,415.25 L750.00,421.50 L754.40,418.10 L759.40,421.50 L764.40,421.50 L770.00,426.50 L774.40,427.75 L779.40,435.25 L784.40,436.00 L789.40,436.90 L794.40,435.60 L799.40,437.25 L804.40,438.10 L810.00,438.10 L815.00,437.75 L819.40,436.50 L824.40,441.00 L829.40,439.00 L834.40,436.25 L839.40,439.40 L844.40,440.00 L850.00,443.10 L855.00,438.10 L860.00,439.00 L864.40,438.50 L869.40,434.40 L874.40,437.25 L879.40,440.60 L884.40,439.75 L889.40,435.60 L894.40,430.25 L899.40,438.10 L904.40,432.75 L909.40,435.60 L914.40,437.50 L919.40,442.25 L924.40,443.50 L929.40,444.75 L934.40,446.00" fill="none" stroke="#8877cc" stroke-width="1.05"/>
<text transform="translate(1013.30,412.60) scale(0.920,1)" font-family="Liberation Sans, sans-serif" font-size="6.80" fill="#131722" stroke="#131722" stroke-width="0.18" text-anchor="end">75.00</text>
<rect x="990.8" y="400" width="33" height="9" fill="#fff"/>
<text transform="translate(1013.30,419.80) scale(0.920,1)" font-family="Liberation Sans, sans-serif" font-size="6.80" fill="#131722" stroke="#131722" stroke-width="0.18" text-anchor="end">51.01</text>
<rect x="992" y="421.5" width="23.2" height="8.9" rx="1" fill="#f5e33b"/>
<text transform="translate(1013.30,428.60) scale(0.920,1)" font-family="Liberation Sans, sans-serif" font-size="6.80" fill="#131722" stroke="#131722" stroke-width="0.18" text-anchor="end">39.74</text>
<text transform="translate(1013.30,439.20) scale(0.920,1)" font-family="Liberation Sans, sans-serif" font-size="6.80" fill="#131722" stroke="#131722" stroke-width="0.18" text-anchor="end">36.43</text>
<rect x="992" y="441.3" width="23.2" height="8.9" rx="1" fill="#7e57c2"/>
<text transform="translate(1013.30,448.40) scale(0.920,1)" font-family="Liberation Sans, sans-serif" font-size="6.80" fill="#fff" stroke="#fff" stroke-width="0.10" text-anchor="end">29.73</text>
<rect x="0" y="411.5" width="197" height="10.5" fill="#fff" fill-opacity="0.85"/>
<text x="-0.5" y="419.6" font-family="Liberation Sans, sans-serif" font-size="7" fill="#131722">RSI <tspan fill="#6a6d78">14 close SMA 14 2</tspan></text>
<circle cx="81.50" cy="417.00" r="4.7" fill="#e9dcfb"/>
<circle cx="81.50" cy="417.00" r="2.6" fill="#f6e6fb" stroke="#6b45d8" stroke-width="1.15"/>
<path d="M83.00,416.00 l2.2,0 l-1.1,1.6 z M80.00,418.00 l-2.2,0 l1.1,-1.6 z" fill="#5a35c8"/>
<text x="91" y="419.6" font-family="Liberation Sans, sans-serif" font-size="7" fill="#6f63c2">29.73</text>
<text x="113" y="419.6" font-family="Liberation Sans, sans-serif" font-size="7" fill="#f5e079">39.74</text>
<circle cx="138.70" cy="417" r="2.3" fill="none" stroke="#131722" stroke-width="0.8"/>
<line x1="136.70" y1="419.8" x2="140.70" y2="414.2" stroke="#131722" stroke-width="0.8"/>
<circle cx="149.30" cy="417" r="2.3" fill="none" stroke="#131722" stroke-width="0.8"/>
<line x1="147.30" y1="419.8" x2="151.30" y2="414.2" stroke="#131722" stroke-width="0.8"/>
<circle cx="159.90" cy="417" r="2.3" fill="none" stroke="#131722" stroke-width="0.8"/>
<line x1="157.90" y1="419.8" x2="161.90" y2="414.2" stroke="#131722" stroke-width="0.8"/>
<circle cx="170.50" cy="417" r="2.3" fill="none" stroke="#131722" stroke-width="0.8"/>
<line x1="168.50" y1="419.8" x2="172.50" y2="414.2" stroke="#131722" stroke-width="0.8"/>
<circle cx="181.10" cy="417" r="2.3" fill="none" stroke="#131722" stroke-width="0.8"/>
<line x1="179.10" y1="419.8" x2="183.10" y2="414.2" stroke="#131722" stroke-width="0.8"/>
<circle cx="191.70" cy="417" r="2.3" fill="none" stroke="#131722" stroke-width="0.8"/>
<line x1="189.70" y1="419.8" x2="193.70" y2="414.2" stroke="#131722" stroke-width="0.8"/>
<g fill="#131722">
<path d="M0.9,434.6 H8.9 V443 H4.7 V437.5 H0.9 Z"/>
<circle cx="10.7" cy="436.1" r="1.55"/>
<path d="M14.1,434.6 H18 L14.4,443 H10.5 Z"/>
</g>
<text x="22.2" y="443" font-family="Liberation Sans, sans-serif" font-size="11.3" fill="#131722" stroke="#131722" stroke-width="0.45" textLength="67.8" lengthAdjust="spacingAndGlyphs">TradingView</text>
<rect x="0" y="450" width="990" height="0.8" fill="#eef0f4"/>
<clipPath id="tc"><rect x="0" y="450" width="992.5" height="17"/></clipPath><g clip-path="url(#tc)">
<text x="8.80" y="461" font-family="Liberation Sans, sans-serif" font-size="6.5" font-weight="bold" fill="#131722" text-anchor="middle">Mar</text>
<text x="63.86" y="461" font-family="Liberation Sans, sans-serif" font-size="6.5"  fill="#131722" text-anchor="middle">18</text>
<text x="113.92" y="461" font-family="Liberation Sans, sans-serif" font-size="6.5" font-weight="bold" fill="#131722" text-anchor="middle">Apr</text>
<text x="163.98" y="461" font-family="Liberation Sans, sans-serif" font-size="6.5"  fill="#131722" text-anchor="middle">15</text>
<text x="224.05" y="461" font-family="Liberation Sans, sans-serif" font-size="6.5" font-weight="bold" fill="#131722" text-anchor="middle">May</text>
<text x="289.12" y="461" font-family="Liberation Sans, sans-serif" font-size="6.5"  fill="#131722" text-anchor="middle">20</text>
<text x="339.18" y="461" font-family="Liberation Sans, sans-serif" font-size="6.5" font-weight="bold" fill="#131722" text-anchor="middle">Jun</text>
<text x="389.24" y="461" font-family="Liberation Sans, sans-serif" font-size="6.5"  fill="#131722" text-anchor="middle">17</text>
<text x="439.30" y="461" font-family="Liberation Sans, sans-serif" font-size="6.5" font-weight="bold" fill="#131722" text-anchor="middle">Jul</text>
<text x="489.36" y="461" font-family="Liberation Sans, sans-serif" font-size="6.5"  fill="#131722" text-anchor="middle">15</text>
<text x="554.43" y="461" font-family="Liberation Sans, sans-serif" font-size="6.5" font-weight="bold" fill="#131722" text-anchor="middle">Aug</text>
<text x="614.50" y="461" font-family="Liberation Sans, sans-serif" font-size="6.5"  fill="#131722" text-anchor="middle">19</text>
<text x="664.56" y="461" font-family="Liberation Sans, sans-serif" font-size="6.5" font-weight="bold" fill="#131722" text-anchor="middle">Sep</text>
<text x="714.62" y="461" font-family="Liberation Sans, sans-serif" font-size="6.5"  fill="#131722" text-anchor="middle">16</text>
<text x="769.68" y="461" font-family="Liberation Sans, sans-serif" font-size="6.5" font-weight="bold" fill="#131722" text-anchor="middle">Oct</text>
<text x="819.74" y="461" font-family="Liberation Sans, sans-serif" font-size="6.5"  fill="#131722" text-anchor="middle">15</text>
<text x="884.81" y="461" font-family="Liberation Sans, sans-serif" font-size="6.5" font-weight="bold" fill="#131722" text-anchor="middle">Nov</text>
<text x="939.88" y="461" font-family="Liberation Sans, sans-serif" font-size="6.5"  fill="#131722" text-anchor="middle">18</text>
<text x="989.94" y="461" font-family="Liberation Sans, sans-serif" font-size="6.5" font-weight="bold" fill="#131722" text-anchor="middle">Dec</text>
</g>
<path d="M1004.6,459.1 L1006.55,455.8 L1010.45,455.8 L1012.4,459.1 L1010.45,462.4 L1006.55,462.4 Z" fill="none" stroke="#3a3d46" stroke-width="0.95" stroke-linejoin="round"/>
<circle cx="1008.5" cy="459.1" r="1.5" fill="none" stroke="#3a3d46" stroke-width="0.9"/>
<rect x="3.5" y="5" width="21.5" height="7.4" rx="3.7" fill="#f0f1f3"/>
<rect x="14" y="5" width="11" height="7.4" rx="3.7" fill="#f9c9d7"/>
<rect x="14" y="5" width="4" height="7.4" fill="#f9c9d7"/>
<rect x="6.4" y="8.2" width="5.2" height="1.2" fill="#6a6d78"/>
<rect x="16.5" y="7" width="5" height="0.9" fill="#e8467c"/>
<rect x="16.5" y="9.1" width="5" height="0.9" fill="#e8467c"/>
<text x="35" y="11.5" font-family="Liberation Sans, sans-serif" font-size="7.9" fill="#e0475b" textLength="202.5" lengthAdjust="spacingAndGlyphs"><tspan fill="#131722">O</tspan>1.26645 <tspan fill="#131722">H</tspan>1.26966 <tspan fill="#131722">L</tspan>1.25966 <tspan fill="#131722">C</tspan>1.26168 −0.00477 (−0.38%)</text>
<rect x="0.4" y="17.6" width="35.3" height="18.8" rx="2.5" fill="#fff" stroke="#f3a5ad" stroke-width="0.9"/>
<text x="5.5" y="26.1" font-family="Liberation Sans, sans-serif" font-size="7.3" fill="#e0475b" stroke="#e0475b" stroke-width="0.15">1.2616<tspan font-size="4.6" dy="-1.3">8</tspan></text>
<text x="17.4" y="34.2" font-family="Liberation Sans, sans-serif" font-size="6" fill="#e0475b" text-anchor="middle">SELL</text>
<text x="45.5" y="29.4" font-family="Liberation Sans, sans-serif" font-size="5.4" fill="#2a2e39" text-anchor="middle">16.0</text>
<rect x="56.5" y="17.6" width="36.8" height="18.8" rx="2.5" fill="#fff" stroke="#97acd9" stroke-width="0.9"/>
<text x="63" y="26.1" font-family="Liberation Sans, sans-serif" font-size="7.3" fill="#3d63c9" stroke="#3d63c9" stroke-width="0.15">1.2632<tspan font-size="4.6" dy="-1.3">8</tspan></text>
<text x="74.3" y="34.2" font-family="Liberation Sans, sans-serif" font-size="6" fill="#3d63c9" text-anchor="middle">BUY</text>
<text x="-0.6" y="48.6" font-family="Liberation Sans, sans-serif" font-size="7" fill="#131722">EMA <tspan fill="#6a6d78">50 close 0 SMA 5</tspan></text>
<circle cx="81.20" cy="45.90" r="4.7" fill="#e9dcfb"/>
<circle cx="81.20" cy="45.90" r="2.6" fill="#f6e6fb" stroke="#6b45d8" stroke-width="1.15"/>
<path d="M82.70,44.90 l2.2,0 l-1.1,1.6 z M79.70,46.90 l-2.2,0 l1.1,-1.6 z" fill="#5a35c8"/>
<text x="91.3" y="48.6" font-family="Liberation Sans, sans-serif" font-size="7" fill="#3d63c9">1.29730</text>
<rect x="-1" y="54.5" width="16.6" height="11" rx="2" fill="#fff" stroke="#e0e3eb" stroke-width="0.8"/>
<path d="M5.3,61 L7.8,58.6 L10.3,61" fill="none" stroke="#131722" stroke-width="0.9"/>
</svg>
</body></html>
